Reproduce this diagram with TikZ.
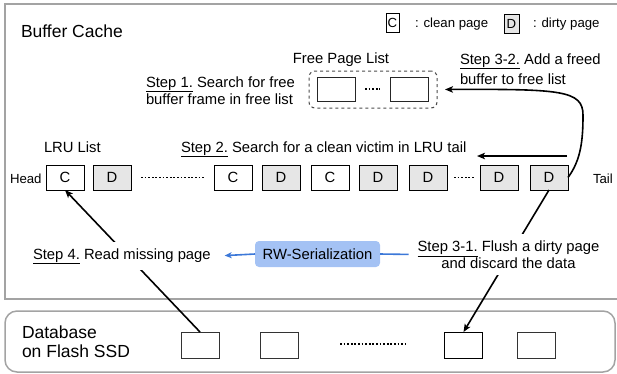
\documentclass[tikz,border=0pt]{standalone}
\usepackage{fontspec}
\setmainfont{Liberation Sans}
\usetikzlibrary{arrows.meta,calc}

\definecolor{framegray}{HTML}{A3A3A3}
\definecolor{dirtyfill}{HTML}{E6E6E6}
\definecolor{rwfill}{HTML}{A4C2F4}
\definecolor{rwblue}{HTML}{3C78D8}

\newcommand{\mainsize}{\fontsize{14.8}{17}\selectfont}
\newcommand{\bigsize}{\fontsize{17.5}{18.5}\selectfont}
\newcommand{\smallsize}{\fontsize{13.2}{15}\selectfont}

\begin{document}
\begin{tikzpicture}[x=1pt,y=-1pt,
  every node/.style={inner sep=0pt,outer sep=0pt},
  cachebox/.style={draw=framegray,line width=1.5pt},
  pagebox/.style={draw=black,line width=1pt,minimum width=38pt,minimum height=25pt,font=\mainsize},
  cleanpage/.style={pagebox,fill=white},
  dirtypage/.style={pagebox,fill=dirtyfill},
  dbpage/.style={draw=black!80,line width=1pt,minimum width=38pt,minimum height=26pt},
  freepage/.style={draw=black!85,line width=1pt,minimum width=38pt,minimum height=24pt},
  dotrow/.style={line width=1.7pt,dash pattern=on 1.7pt off 1.9pt},
  steparrow/.style={line width=1.6pt,-{Stealth[length=8pt,width=6.5pt,inset=2pt]}},
  rwarrow/.style={rwblue,line width=1.6pt,-{Stealth[length=7pt,width=6pt,inset=2pt]}},
  plaintext/.style={font=\mainsize,anchor=base west},
]
\useasboundingbox (0,0) rectangle (617,373);

% ---- the two regions ----
\draw[cachebox] (5,4) rectangle (619,299);
\draw[cachebox,rounded corners=12pt] (5,311) rectangle (615,372);

\node[plaintext,font=\bigsize] (bctitle) at (21,37) {Buffer Cache};

% ---- legend ----
\node[draw=black,line width=1pt,minimum width=13pt,minimum height=19pt,font=\smallsize] (legc) at (392.5,22.5) {C};
\node[plaintext,font=\smallsize] (legctext) at (415,27) {: clean page};
\node[draw=black,line width=1pt,fill=dirtyfill,minimum width=15pt,minimum height=19pt,font=\smallsize] (legd) at (511.5,23.5) {D};
\node[plaintext,font=\smallsize] (legdtext) at (533,27) {: dirty page};

% ---- free page list ----
\node[font=\mainsize,anchor=base] (fpltitle) at (341,63) {Free Page List};
\node[draw=black!70,line width=1pt,dashed,rounded corners=6pt,minimum width=128pt,minimum height=37pt] (freelist) at (373,89.5) {};
\node[freepage] (f1) at (336,89) {};
\node[freepage] (f2) at (409,89) {};
\draw[dotrow] ($(f1.east)+(10,0)$) -- ($(f2.west)+(-10,0)$);

% multi-line texts: the base anchor sits on the last line
\node[plaintext,align=left] (step1) at (146,104) {\underline{Step 1.} Search for free\\buffer frame in free list};
\node[plaintext,align=left,font=\fontsize{14.8}{20}\selectfont] (step32) at (460,84) {\underline{Step 3-2.} Add a freed\\buffer to free list};

% ---- LRU list ----
\node[plaintext] (lrutitle) at (44,152) {LRU List};
\node[plaintext] (step2) at (181,152) {\underline{Step 2.} Search for a clean victim in LRU tail};

\node[plaintext,font=\smallsize] (head) at (10,183) {Head};
\node[plaintext,font=\smallsize] (tail) at (593,183) {Tail};

\node[cleanpage] (b1) at (65,177.5) {C};
\node[dirtypage] (b2) at (112,177.5) {D};
\node[cleanpage] (b3) at (233,177.5) {C};
\node[dirtypage] (b4) at (281,177.5) {D};
\node[cleanpage] (b5) at (330,177.5) {C};
\node[dirtypage] (b6) at (378,177.5) {D};
\node[dirtypage] (b7) at (428,177.5) {D};
\node[dirtypage] (b8) at (499,177.5) {D};
\node[dirtypage] (b9) at (549,177.5) {D};
\draw[dotrow] ($(b2.east)+(10,0)$) -- ($(b3.west)+(-9,0)$);
\draw[dotrow] ($(b7.east)+(7,0)$) -- ($(b8.west)+(-5,0)$);

% step 2: scan from the tail towards the head
\coordinate (scanstart) at (567,156);
\coordinate (scanend) at (477,156);
\draw[steparrow] (scanstart) -- (scanend);

% step 3-2: freed buffer goes back to the free list
\draw[steparrow,shorten >=8pt] (b9.east) .. controls (581,160) and (583,140) .. (583,115)
  .. controls (583,90) and (560,89) .. (freelist.east);

% ---- database on flash ----
\node[plaintext,align=left,font=\bigsize] (dbtitle) at (22,357) {Database\\on Flash SSD};
\node[dbpage] (db1) at (200,345) {};
\node[dbpage] (db2) at (279,345) {};
\node[dbpage,draw=black] (db3) at (463.5,345) {};
\node[dbpage] (db4) at (536,345) {};
\draw[dotrow] (340,344) -- (406,344);

% ---- flush and read paths ----
\draw[steparrow] (b9.south) -- (db3.north);
\draw[steparrow] (db1.north) -- (b1.south);

\node[plaintext,fill=white,inner xsep=3pt,inner ysep=6pt] (step4) at (30,259) {\underline{Step 4.} Read missing page};
\node[font=\mainsize,align=center,fill=white,inner xsep=3pt,inner ysep=6.5pt] (step31) at (508.5,254.5) {\underline{Step 3-1.} Flush a dirty page\\and discard the data};

\node[fill=rwfill,rounded corners=4pt,minimum width=125pt,minimum height=26pt,font=\mainsize] (rw) at (317.5,254) {RW-Serialization};
\draw[rwarrow,shorten >=11pt] (rw.west) -- (step4.east);
\draw[rwblue,line width=1.6pt,shorten >=6pt] (rw.east) -- (step31.west);
\end{tikzpicture}
\end{document}
